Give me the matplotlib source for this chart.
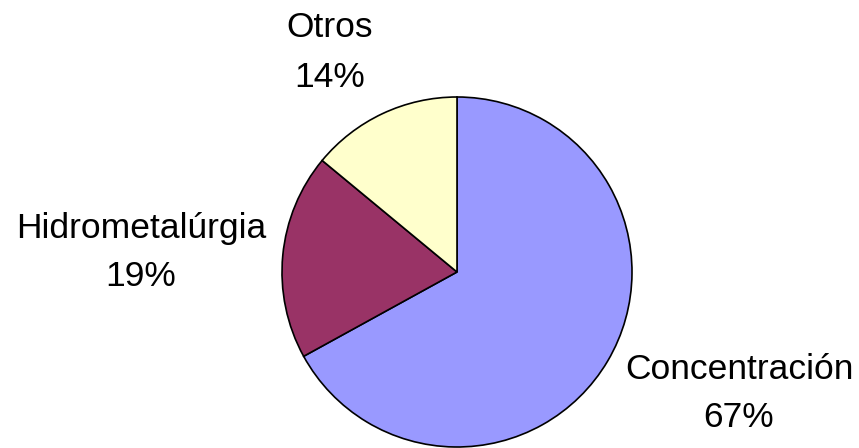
import matplotlib
matplotlib.use("Agg")
import matplotlib.pyplot as plt

categories = ["Concentración", "Hidrometalúrgia", "Otros"]
values = [67, 19, 14]
colors = ["#9999FF", "#993366", "#FFFFCC"]

# label layout in pixels: (center x, baseline of name, baseline of percent)
label_px = [(739, 379, 427), (141, 238, 286), (330, 37, 87)]

plt.rcParams['font.family'] = ['Liberation Sans', 'DejaVu Sans']

W, H = 859, 448
fig = plt.figure(figsize=(W / 100, H / 100), dpi=100)
cx, cy, r = 457, 272, 175
ax = fig.add_axes([(cx - r) / W, (H - cy - r) / H, 2 * r / W, 2 * r / H])
ax.pie(values, colors=colors, startangle=90, counterclock=False, radius=1,
       wedgeprops=dict(edgecolor="black", linewidth=1.2))
ax.set_xlim(-1, 1)
ax.set_ylim(-1, 1)
ax.set_aspect("equal")
ax.axis("off")

for cat, v, (x, b1, b2) in zip(categories, values, label_px):
    fig.text(x / W, 1 - b1 / H, cat, ha="center", va="baseline", fontsize=25.5, color="black")
    fig.text(x / W, 1 - b2 / H, f"{v}%", ha="center", va="baseline", fontsize=25.5, color="black")

fig.savefig("out.png", dpi=100)
